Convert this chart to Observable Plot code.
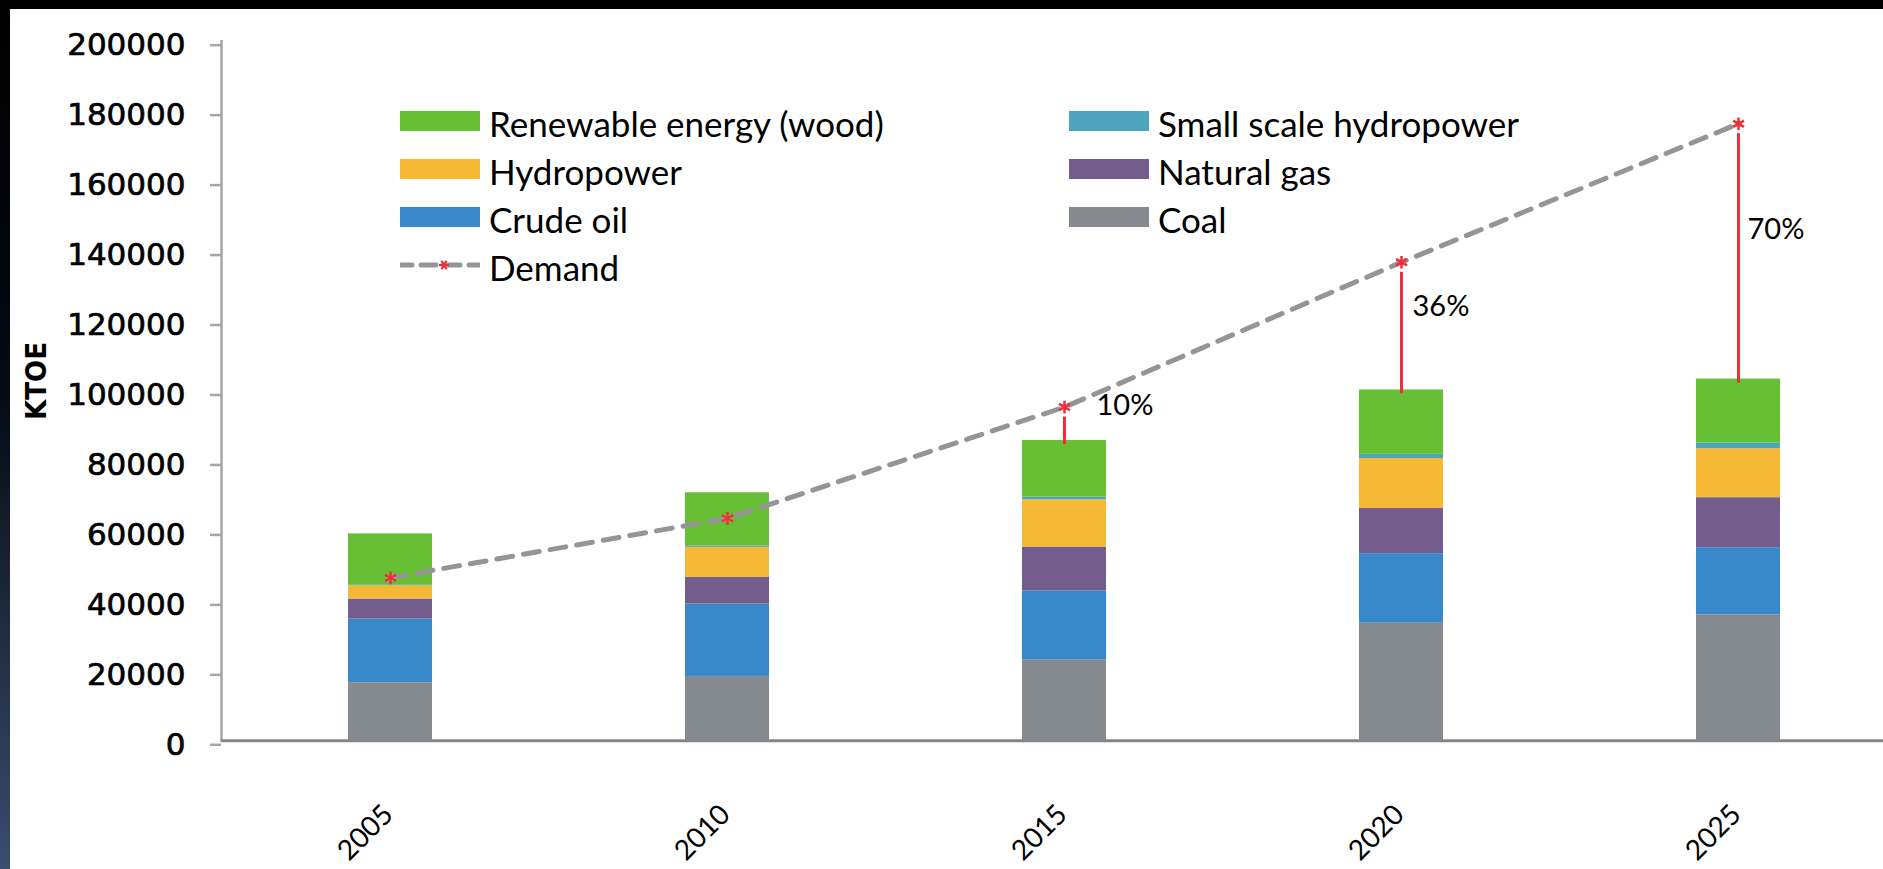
<!DOCTYPE html>
<html><head><meta charset="utf-8">
<script src="https://cdn.jsdelivr.net/npm/d3@7"></script>
<script src="https://cdn.jsdelivr.net/npm/@observablehq/plot@0.6"></script>
<style>
html,body{margin:0;padding:0;background:#fff;overflow:hidden;width:1883px;height:869px}
#wrap{position:relative;width:1883px;height:869px;overflow:hidden}
#chart svg{display:block}
#chart svg g[aria-label="y-axis tick label"] text{stroke:#000;stroke-width:0.7px}
#topbar{position:absolute;left:0;top:0;width:1883px;height:9px;background:#000}
#leftbar{position:absolute;left:0;top:0;width:10px;height:869px;background:linear-gradient(#000 0%,#050a12 45%,#3a4d6e 100%)}
.item{position:absolute;display:flex;align-items:center;white-space:nowrap;height:44px;font-family:Lato,sans-serif;font-size:35px;color:#000}
.item span{padding-top:4px}
.sw{width:80px;height:20px;margin-right:9px;flex:none}
.dl{width:80px;height:20px;margin-right:9px;flex:none}
</style></head><body>
<div id="wrap"><div id="chart"></div><div id="legend"></div><div id="topbar"></div><div id="leftbar"></div></div>
<script>
// ---- data ----
const years = ["2005", "2010", "2015", "2020", "2025"];
const coal = [16600, 18400, 23200, 33600, 36000];
const crudeOil = [18200, 20700, 19600, 19900, 19200];
const naturalGas = [5700, 7600, 12600, 12900, 14300];
const hydropower = [3800, 8600, 13500, 14300, 14000];
const smallHydro = [150, 400, 750, 1200, 1600];
const wood = [14700, 15200, 16200, 18400, 18300];
const demand = [46600, 63600, 95400, 136800, 176400];
const gapYears = ["2015", "2020", "2025"];
const gapLabels = ["10%", "36%", "70%"];
const gapLabelValue = [95800, 124200, 146000];
const yTicks = [0, 20000, 40000, 60000, 80000, 100000, 120000, 140000, 160000, 180000, 200000];
const sourceNames = ["Coal", "Crude oil", "Natural gas", "Hydropower", "Small scale hydropower", "Renewable energy (wood)"];
const sourceValues = [coal, crudeOil, naturalGas, hydropower, smallHydro, wood];

// ---- styles ----
const sourceColors = ["#858a90", "#3789ca", "#745d8c", "#f5b935", "#4da6bd", "#67bf33"];
const RED = "#e8323c";
const DEMAND_GRAY = "#959595";
const labelDx = [32, 11, 9];

// ---- tables ----
const table = [];
years.forEach((yr, i) => sourceNames.forEach((s, j) => table.push({year: yr, source: s, value: sourceValues[j][i]})));
const totals = years.map((yr, i) => sourceValues.reduce((a, v) => a + v[i], 0));
const demandData = years.map((yr, i) => ({year: yr, demand: demand[i], supply: totals[i]}));
const gapData = demandData.filter(d => gapYears.includes(d.year));

const chart = Plot.plot({
  width: 1883, height: 869,
  marginLeft: 221, marginRight: 0, marginTop: 40.7, marginBottom: 128.7,
  style: {background: "white", overflow: "visible"},
  x: {domain: years, range: [221, 1906.6], paddingInner: 0.75, paddingOuter: 0.375, axis: null},
  y: {domain: [0, 200000], axis: null},
  color: {domain: sourceNames, range: sourceColors},
  marks: [
    Plot.barY(table, {x: "year", y: "value", fill: "source", order: sourceNames}),
    Plot.frame({anchor: "left", stroke: "#a6a6a6", strokeWidth: 2.5}),
    Plot.axisY({ticks: yTicks, tickFormat: d => String(d), tickSize: 11, tickPadding: 25, stroke: "#a6a6a6", strokeWidth: 2.5,
      fontSize: 31, fontFamily: "DejaVu Sans", fill: "#000", dy: 4, label: null}),
    Plot.axisX({tickSize: 0, tickPadding: 0, tickRotate: -45, textAnchor: "end", lineAnchor: "middle",
      dy: 69, dx: -2, fontSize: 28, fontFamily: "Lato", fill: "#000", label: null}),
    Plot.ruleY([0], {stroke: "#868686", strokeWidth: 3}),
    Plot.line(demandData, {x: "year", y: "demand", stroke: DEMAND_GRAY, strokeWidth: 5, strokeDasharray: "16,11", strokeLinecap: "round"}),
    Plot.ruleX(gapData, {x: "year", y1: "demand", y2: "supply", stroke: RED, strokeWidth: 3, insetTop: 10, insetBottom: -4}),
    Plot.dot(demandData, {x: "year", y: "demand", r: 3.5, fill: "#f3a6aa", stroke: "none"}),
    Plot.dot(demandData, {x: "year", y: "demand", symbol: "asterisk", r: 6, stroke: RED, strokeWidth: 2.5}),
    ...gapLabels.map((lbl, i) => Plot.text([lbl], {x: () => gapYears[i], y: () => gapLabelValue[i], text: d => d,
      textAnchor: "start", dx: labelDx[i], fontSize: 29, fontFamily: "Lato", fill: "#000"})),
    Plot.text(["KTOE"], {frameAnchor: "left", text: d => d, rotate: -90, dx: -185, dy: 29, fontSize: 29,
      fontWeight: "bold", fontFamily: "'Liberation Sans Narrow', 'DejaVu Sans Condensed', sans-serif", fill: "#000"})
  ]
});
document.getElementById("chart").appendChild(chart);

// ---- legend (HTML overlay) ----
const legend = document.getElementById("legend");
const colorOf = Object.fromEntries(sourceNames.map((s, i) => [s, sourceColors[i]]));
const legendItems = [
  {name: "Renewable energy (wood)", col: 0, row: 0},
  {name: "Hydropower", col: 0, row: 1},
  {name: "Crude oil", col: 0, row: 2},
  {name: "Demand", col: 0, row: 3, line: true},
  {name: "Small scale hydropower", col: 1, row: 0},
  {name: "Natural gas", col: 1, row: 1},
  {name: "Coal", col: 1, row: 2}
];
const colX = [400, 1069];
const rowY = [121, 169, 217, 265];
for (const it of legendItems) {
  const div = document.createElement("div");
  div.className = "item";
  div.style.left = colX[it.col] + "px";
  div.style.top = (rowY[it.row] - 22) + "px";
  if (it.line) {
    div.innerHTML = `<svg class="dl" width="80" height="20" viewBox="0 0 80 20">
      <line x1="-3" y1="10" x2="83" y2="10" stroke="${DEMAND_GRAY}" stroke-width="5" stroke-dasharray="15,9" stroke-linecap="round"/>
      <circle cx="44" cy="10" r="3" fill="#f3a6aa"/>
      <g transform="translate(44,10)" stroke="${RED}" stroke-width="2.2">
        <line x1="-5" y1="0" x2="5" y2="0"/><line x1="-2.5" y1="-4.3" x2="2.5" y2="4.3"/><line x1="-2.5" y1="4.3" x2="2.5" y2="-4.3"/>
      </g></svg><span>${it.name}</span>`;
  } else {
    div.innerHTML = `<div class="sw" style="background:${colorOf[it.name]}"></div><span>${it.name}</span>`;
  }
  legend.appendChild(div);
}
</script>
</body></html>
